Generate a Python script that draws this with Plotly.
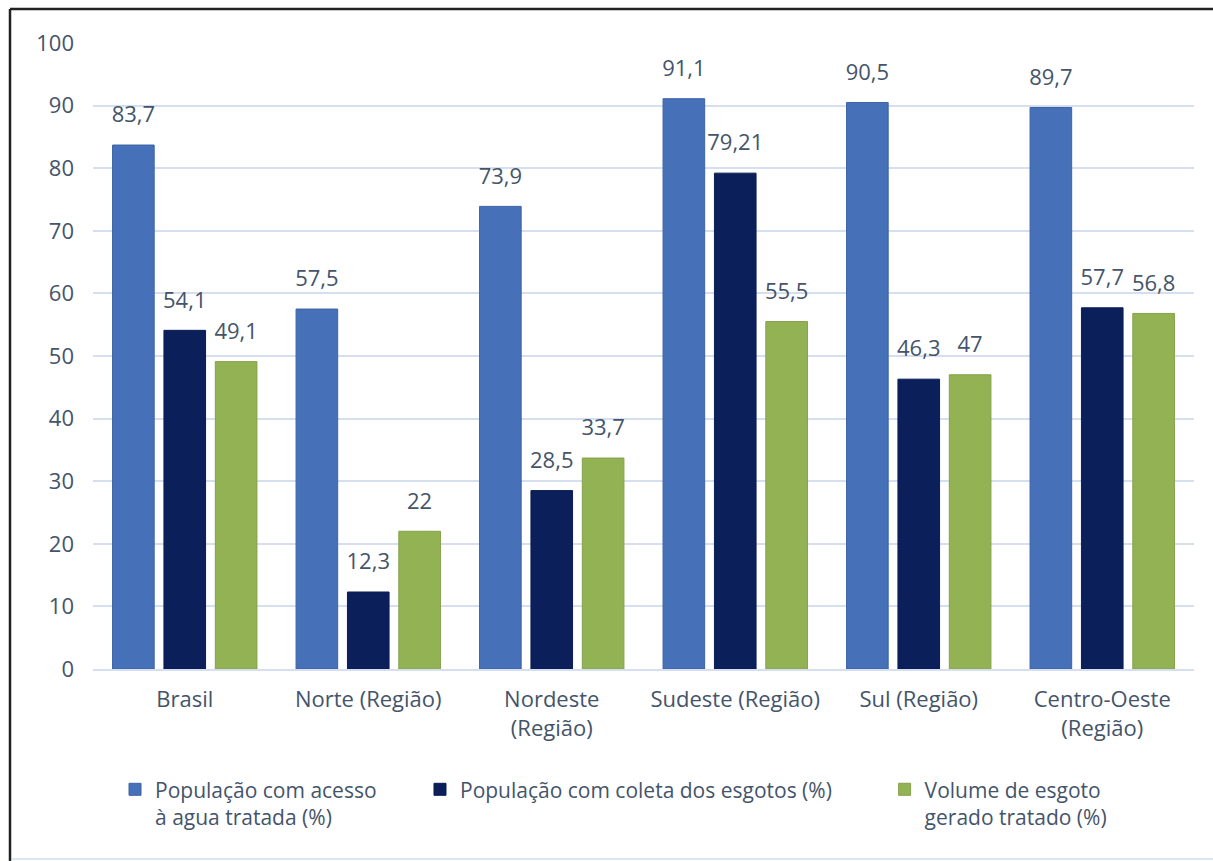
import plotly.graph_objects as go

categories = ["Brasil", "Norte (Região)", "Nordeste<br>(Região)", "Sudeste (Região)",
              "Sul (Região)", "Centro-Oeste<br>(Região)"]
agua = [83.7, 57.5, 73.9, 91.1, 90.5, 89.7]
coleta = [54.1, 12.3, 28.5, 79.21, 46.3, 57.7]
tratado = [49.1, 22, 33.7, 55.5, 47, 56.8]

series_names = ["População com acesso<br>à agua tratada (%)",
                "População com coleta dos esgotos (%)",
                "Volume de esgoto<br>gerado tratado (%)"]
series_colors = ["#4670b8", "#0b1f5a", "#93b254"]
series_lines = ["#3d63a6", "#0a1c52", "#84a14a"]
legend_ids = ["legend", "legend2", "legend3"]

txt_color = "#44546a"
font_family = "Open Sans, Liberation Sans, DejaVu Sans, sans-serif"


def fmt(v):
    return ("%g" % v).replace(".", ",")


fig = go.Figure()
for name, vals, col, lc, lg in zip(series_names, [agua, coleta, tratado], series_colors,
                                   series_lines, legend_ids):
    fig.add_trace(go.Bar(
        x=categories, y=vals, name=name, legend=lg,
        marker=dict(color=col, line=dict(color=lc, width=1)),
    ))
for name, vals in zip(series_names, [agua, coleta, tratado]):
    fig.add_trace(go.Scatter(
        x=categories, y=vals, mode="markers+text", showlegend=False,
        marker=dict(size=26, opacity=0), hoverinfo="skip",
        text=[fmt(v) for v in vals], textposition="top center",
        textfont=dict(size=22, color=txt_color, family=font_family),
        cliponaxis=False,
    ))

legend_common = dict(orientation="h", y=-0.16, xanchor="left", yanchor="top",
                     font=dict(size=21, color=txt_color, family=font_family),
                     itemwidth=30, valign="top", bgcolor="rgba(0,0,0,0)")

fig.update_layout(
    width=1213, height=861,
    margin=dict(l=93, r=19, t=43, b=192),
    paper_bgcolor="white", plot_bgcolor="white",
    barmode="group", bargap=0.16, bargroupgap=0.19,
    scattermode="group", scattergap=0.16,
    font=dict(family=font_family, color=txt_color, size=21),
    showlegend=True,
    legend=dict(x=0.02, **legend_common),
    legend2=dict(x=0.297, **legend_common),
    legend3=dict(x=0.719, **legend_common),
    xaxis=dict(showgrid=False, showline=True, linecolor="#d5dff0", linewidth=2,
               ticks="", ticklabelstandoff=10, tickfont=dict(size=22, color=txt_color)),
    yaxis=dict(range=[0, 100], dtick=10, showgrid=True, gridcolor="#d5dff0", gridwidth=2,
               zeroline=False, showline=False, ticks="", ticklabelstandoff=18,
               tickfont=dict(size=22, color=txt_color)),
    shapes=[
        dict(type="line", xref="paper", yref="paper", x0=(10 - 93) / 1101, x1=(1213 - 93) / 1101,
             y0=1 + (43 - 9) / 626, y1=1 + (43 - 9) / 626, line=dict(color="#222222", width=2.5)),
        dict(type="line", xref="paper", yref="paper", x0=(10 - 93) / 1101, x1=(10 - 93) / 1101,
             y0=1 + (43 - 9) / 626, y1=(669 - 861) / 626, line=dict(color="#222222", width=2.5)),
        dict(type="line", xref="paper", yref="paper", x0=(12 - 93) / 1101, x1=(1213 - 93) / 1101,
             y0=(669 - 859) / 626, y1=(669 - 859) / 626, line=dict(color="#dbe5f3", width=2)),
    ],
)

fig.write_html("out.html")
